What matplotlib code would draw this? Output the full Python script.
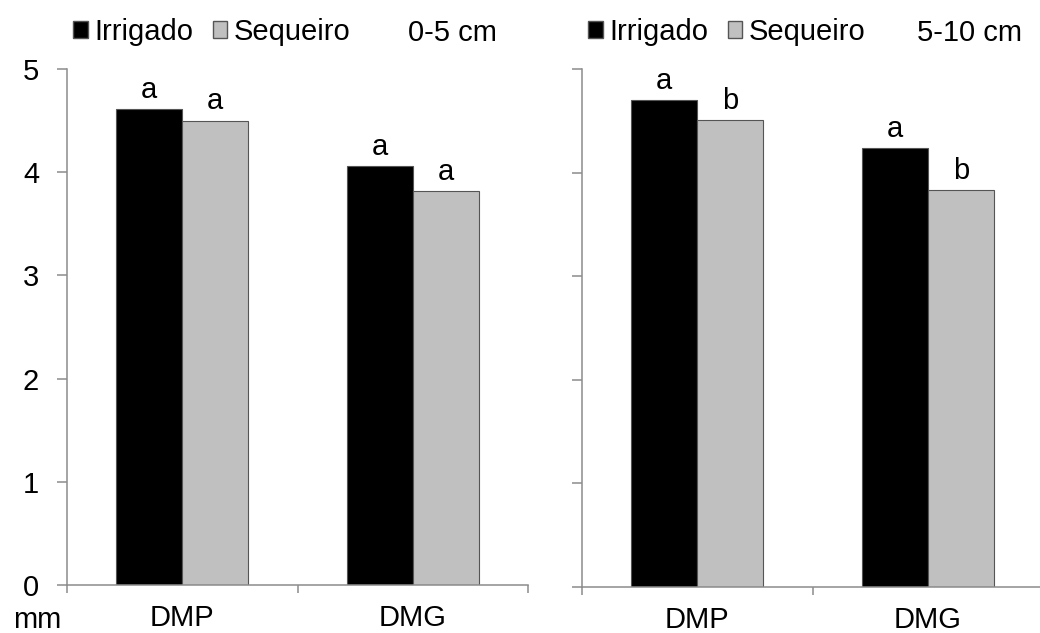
import matplotlib.pyplot as plt
from matplotlib.patches import Patch

plt.rcParams['font.family'] = ['Liberation Sans', 'DejaVu Sans']

categories = ['DMP', 'DMG']
series = ['Irrigado', 'Sequeiro']
depths = ['0-5 cm', '5-10 cm']

irrigado_0_5 = [4.61, 4.06]
sequeiro_0_5 = [4.50, 3.82]
irrigado_5_10 = [4.70, 4.24]
sequeiro_5_10 = [4.51, 3.83]

letters_irr_0_5 = ['a', 'a']
letters_seq_0_5 = ['a', 'a']
letters_irr_5_10 = ['a', 'a']
letters_seq_5_10 = ['b', 'b']

colors = ['#000000', '#c0c0c0']
edge = '#555555'
axis_color = '#8c8c8c'
fs = 21

fig = plt.figure(figsize=(10.4, 6.33), dpi=100)
ax1 = fig.add_axes([67 / 1040, 1 - 585 / 633, 461 / 1040, 516 / 633])
ax2 = fig.add_axes([582 / 1040, 1 - 587 / 633, 461 / 1040, 518 / 633])

w = 0.286


def panel(ax, irr, seq, l_irr, l_seq, depth, depth_x, show_labels):
    x = range(len(categories))
    xs1 = [i - w / 2 for i in x]
    xs2 = [i + w / 2 for i in x]
    ax.bar(xs1, irr, w, color=colors[0], edgecolor=edge, linewidth=0.8)
    ax.bar(xs2, seq, w, color=colors[1], edgecolor=edge, linewidth=0.8)
    for xi, v, t in zip(xs1 + xs2, irr + seq, l_irr + l_seq):
        ax.annotate(t, (xi, v), xytext=(0, 8), textcoords='offset points',
                    ha='center', va='baseline', fontsize=fs)

    ax.set_xlim(-0.5, len(categories) - 0.5)
    ax.set_ylim(0, 5)
    ax.set_yticks(range(6))
    if not show_labels:
        ax.set_yticklabels([])
    ax.set_xticks([i - 0.5 for i in range(len(categories) + 1)])
    ax.set_xticklabels([])
    ax.set_xticks(list(x), minor=True)
    ax.set_xticklabels(categories, minor=True)
    ax.tick_params(axis='x', which='minor', length=0, labelsize=fs, pad=14)
    ax.tick_params(axis='x', which='major', length=6, width=1.1, color=axis_color)
    ax.tick_params(axis='y', length=7, width=1.1, color=axis_color, labelsize=fs, pad=13)
    for s in ['top', 'right']:
        ax.spines[s].set_visible(False)
    for s in ['left', 'bottom']:
        ax.spines[s].set_color(axis_color)
        ax.spines[s].set_linewidth(1.1)

    handles = [Patch(facecolor=colors[0], edgecolor=edge, label=series[0]),
               Patch(facecolor=colors[1], edgecolor=edge, label=series[1])]
    ax.legend(handles=handles, ncol=2, loc='center left', bbox_to_anchor=(0.013, 1.072),
              frameon=False, fontsize=fs, handlelength=0.5, handleheight=0.5,
              handletextpad=0.23, columnspacing=0.67, borderaxespad=0, borderpad=0)
    ax.text(depth_x, 1.054, depth, transform=ax.transAxes, ha='right', va='baseline', fontsize=fs)


panel(ax1, irrigado_0_5, sequeiro_0_5, letters_irr_0_5, letters_seq_0_5, depths[0], 0.933, True)
panel(ax2, irrigado_5_10, sequeiro_5_10, letters_irr_5_10, letters_seq_5_10, depths[1], 0.954, False)

fig.text(37 / 1040, 1 - 620 / 633, 'mm', ha='center', va='center', fontsize=fs)

fig.savefig('out.png', dpi=100)
